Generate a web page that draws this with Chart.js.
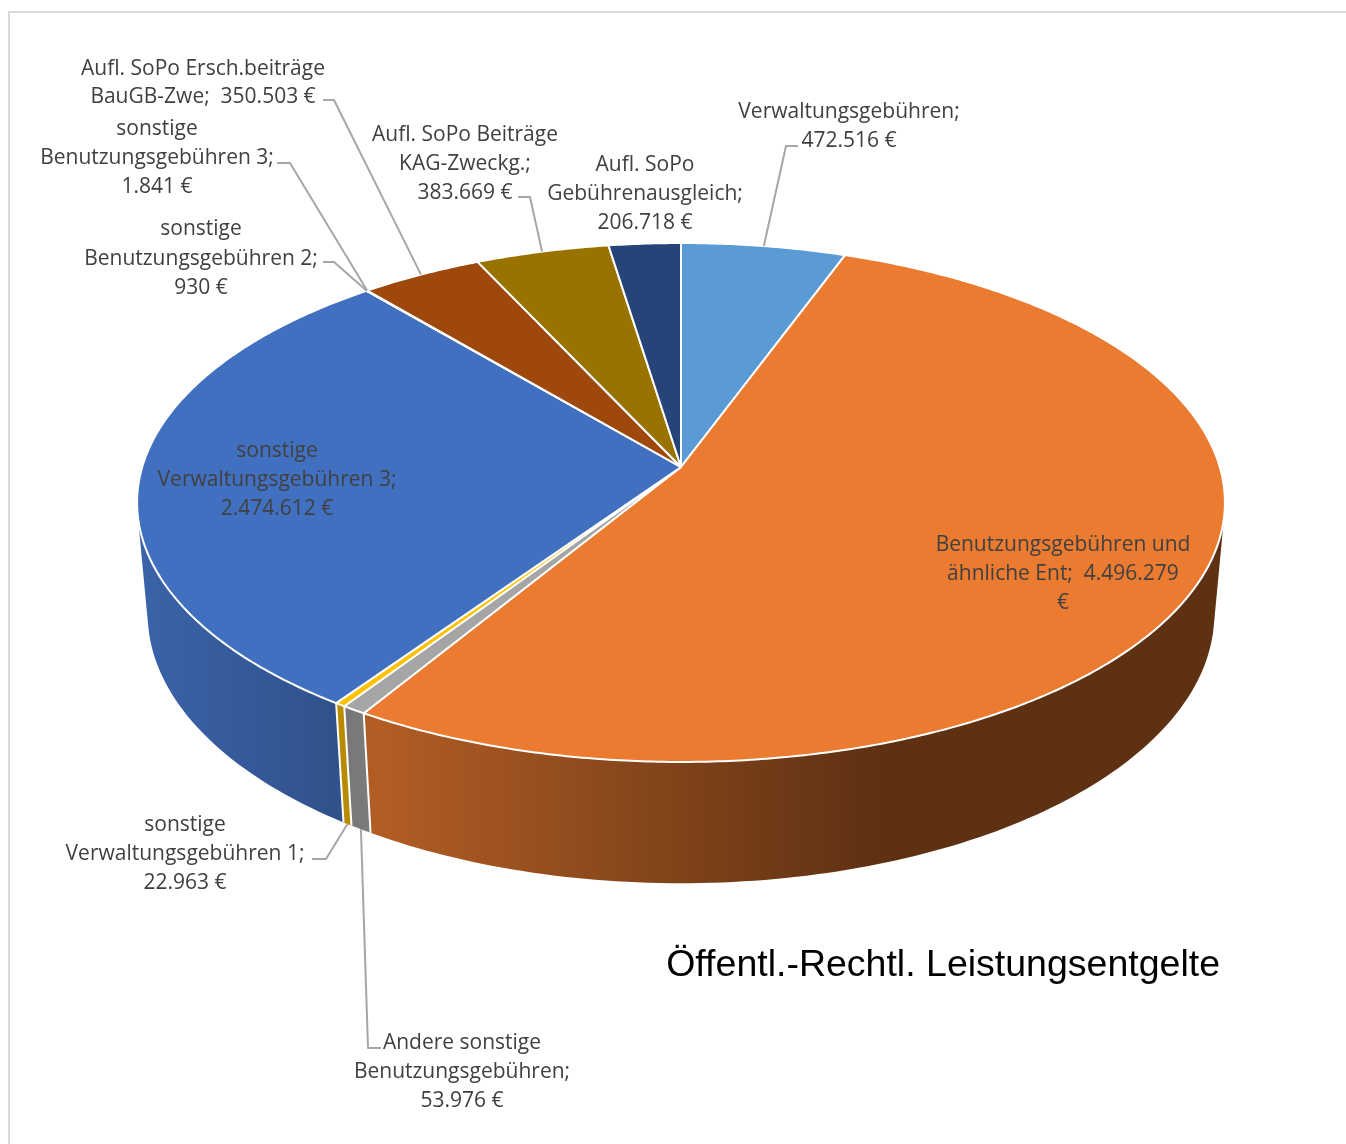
<!DOCTYPE html>
<html>
<head>
<meta charset="utf-8">
<title>Öffentl.-Rechtl. Leistungsentgelte</title>
<style>
  html, body { margin: 0; padding: 0; background: #fff; overflow: hidden; }
  canvas { display: block; }
</style>
<script src="https://cdn.jsdelivr.net/npm/chart.js@4/dist/chart.umd.js"></script>
</head>
<body>
<canvas id="chart" width="1346" height="1144"></canvas>
<script>
const categories = [
  "Verwaltungsgebühren",
  "Benutzungsgebühren und ähnliche Ent",
  "Andere sonstige Benutzungsgebühren",
  "sonstige Verwaltungsgebühren 1",
  "sonstige Verwaltungsgebühren 3",
  "sonstige Benutzungsgebühren 2",
  "sonstige Benutzungsgebühren 3",
  "Aufl. SoPo Ersch.beiträge BauGB-Zwe",
  "Aufl. SoPo Beiträge KAG-Zweckg.",
  "Aufl. SoPo Gebührenausgleich"
];
const values = [472516, 4496279, 53976, 22963, 2474612, 930, 1841, 350503, 383669, 206718];
const colors = ["#5B9BD5", "#EA7B30", "#A5A5A5", "#FFC000", "#4270C0", "#70AD47", "#255E91", "#9E480E", "#997300", "#264478"];
const labelRows = [
  ["Verwaltungsgebühren;", "472.516 €"],
  ["Benutzungsgebühren und", "ähnliche Ent;  4.496.279", "€"],
  ["Andere sonstige", "Benutzungsgebühren;", "53.976 €"],
  ["sonstige", "Verwaltungsgebühren 1;", "22.963 €"],
  ["sonstige", "Verwaltungsgebühren 3;", "2.474.612 €"],
  ["sonstige", "Benutzungsgebühren 2;", "930 €"],
  ["sonstige", "Benutzungsgebühren 3;", "1.841 €"],
  ["Aufl. SoPo Ersch.beiträge", "BauGB-Zwe;  350.503 €"],
  ["Aufl. SoPo Beiträge", "KAG-Zweckg.;", "383.669 €"],
  ["Aufl. SoPo", "Gebührenausgleich;", "206.718 €"]
];

// where the data labels sit: centre x and y of each text row
const labelX = [849, 1063, 462, 185, 277, 201, 157, 203, 465, 645];
const labelY = [
  [112, 141], [545, 574, 603], [1043, 1072, 1101], [825, 854, 883], [451, 480, 509],
  [229, 259, 288], [129, 158, 187], [69, 97], [135, 164, 193], [165, 194, 223]
];
// leader lines: two fixed points, the last one is found on the rim of the slice
const leaders = {
  0: { pts: [[798, 146], [786, 146]], h: 0 },
  2: { pts: [[381, 1048], [368, 1048]], h: 1 },
  3: { pts: [[312, 859], [326, 859]], h: 1 },
  5: { pts: [[323, 262], [334, 262]], h: 0 },
  6: { pts: [[277, 163], [290, 163]], h: 0 },
  7: { pts: [[323, 100], [334, 100]], h: 0 },
  8: { pts: [[518, 197], [530, 197]], h: 0 }
};

// perspective of the pie: h = 0 is the top face, h = 1 the bottom edge
const cam = { cx: 681, cy: 467, a: 538.8, b: 254.6, c: 112.8, p: 0.1368, q: 0.0195 };
function project(angle, r, h) {
  const u = r * Math.cos(angle);
  const v = r * Math.sin(angle);
  const w = 1 - cam.p * v + cam.q * h;
  return [cam.cx + cam.a * u / w, cam.cy + (cam.b * v + cam.c * h) / w];
}

function shade(hex, f) {
  const n = parseInt(hex.slice(1), 16);
  const r = Math.round(((n >> 16) & 255) * f);
  const g = Math.round(((n >> 8) & 255) * f);
  const b = Math.round((n & 255) * f);
  return `rgb(${r},${g},${b})`;
}

function sideFill(ctx, color) {
  const g = ctx.createLinearGradient(138, 0, 1225, 0);
  g.addColorStop(0, shade(color, 0.88));
  g.addColorStop(0.19, shade(color, 0.72));
  g.addColorStop(0.22, shade(color, 0.76));
  g.addColorStop(0.68, shade(color, 0.4));
  g.addColorStop(1, shade(color, 0.4));
  return g;
}

// quad with a fixed winding, so that the folds at the pie's edges do not cancel out
function addQuad(ctx, q) {
  let area = 0;
  q.forEach((p, i) => {
    const n = q[(i + 1) % 4];
    area += p[0] * n[1] - n[0] * p[1];
  });
  const pts = area < 0 ? q.slice().reverse() : q;
  ctx.moveTo(pts[0][0], pts[0][1]);
  for (let i = 1; i < 4; i++) ctx.lineTo(pts[i][0], pts[i][1]);
  ctx.closePath();
}

const pie3d = {
  id: "pie3d",
  beforeDraw(chart) {
    const ctx = chart.ctx;
    ctx.save();
    ctx.strokeStyle = "#D9D9D9";
    ctx.lineWidth = 2;
    ctx.beginPath();
    ctx.moveTo(9, 1144);
    ctx.lineTo(9, 12);
    ctx.lineTo(1346, 12);
    ctx.stroke();
    ctx.restore();
  },
  beforeDatasetsDraw(chart) {
    const ctx = chart.ctx;
    const arcs = chart.getDatasetMeta(0).data;
    const step = Math.PI / 180;
    ctx.save();
    ctx.lineJoin = "round";

    // outer wall, only the part in front can be seen
    arcs.forEach((arc, i) => {
      ctx.beginPath();
      for (let t = arc.startAngle; t < arc.endAngle; t += step) {
        const t2 = Math.min(t + step, arc.endAngle);
        if (Math.sin(t) < -0.2 && Math.sin(t2) < -0.2) continue;
        addQuad(ctx, [project(t, 1, 0), project(t2, 1, 0), project(t2, 1, 1), project(t, 1, 1)]);
      }
      ctx.fillStyle = sideFill(ctx, colors[i]);
      ctx.fill();
    });

    // white seams between the wall pieces
    ctx.strokeStyle = "#fff";
    ctx.lineWidth = 2;
    arcs.forEach(arc => {
      if (Math.sin(arc.startAngle) <= 0) return;
      const a = project(arc.startAngle, 1, 0), d = project(arc.startAngle, 1, 1);
      ctx.beginPath();
      ctx.moveTo(a[0], a[1]);
      ctx.lineTo(d[0], d[1]);
      ctx.stroke();
    });

    // top face
    arcs.forEach((arc, i) => {
      ctx.beginPath();
      ctx.moveTo(cam.cx, cam.cy);
      for (let t = arc.startAngle; t < arc.endAngle; t += step / 2) {
        const p = project(t, 1, 0);
        ctx.lineTo(p[0], p[1]);
      }
      const e = project(arc.endAngle, 1, 0);
      ctx.lineTo(e[0], e[1]);
      ctx.closePath();
      ctx.fillStyle = colors[i];
      ctx.fill();
      ctx.strokeStyle = "#fff";
      ctx.lineWidth = 2;
      ctx.stroke();
    });

    // leader lines
    ctx.strokeStyle = "#A6A6A6";
    ctx.lineWidth = 2;
    Object.keys(leaders).forEach(k => {
      const arc = arcs[k];
      const l = leaders[k];
      const end = project((arc.startAngle + arc.endAngle) / 2, 1, l.h);
      ctx.beginPath();
      ctx.moveTo(l.pts[0][0], l.pts[0][1]);
      ctx.lineTo(l.pts[1][0], l.pts[1][1]);
      ctx.lineTo(end[0], end[1]);
      ctx.stroke();
    });

    // data labels
    ctx.fillStyle = "#404040";
    ctx.font = '21px "Open Sans", "Noto Sans", sans-serif';
    ctx.textAlign = "center";
    ctx.textBaseline = "middle";
    labelRows.forEach((rows, i) => {
      rows.forEach((row, j) => ctx.fillText(row, labelX[i], labelY[i][j]));
    });
    ctx.restore();
    return false;
  }
};

new Chart(document.getElementById("chart"), {
  type: "pie",
  data: {
    labels: categories,
    datasets: [{ data: values, backgroundColor: colors, borderColor: "#fff" }]
  },
  options: {
    responsive: false,
    animation: false,
    layout: { padding: { right: 126 } },
    plugins: {
      legend: { display: false },
      tooltip: { enabled: false },
      title: {
        display: true,
        text: "Öffentl.-Rechtl. Leistungsentgelte",
        position: "bottom",
        align: "end",
        color: "#000",
        font: { family: '"Liberation Sans", Arial, sans-serif', size: 37.5, weight: "normal" },
        padding: { top: 0, bottom: 156 }
      }
    }
  },
  plugins: [pie3d]
});
</script>
</body>
</html>
